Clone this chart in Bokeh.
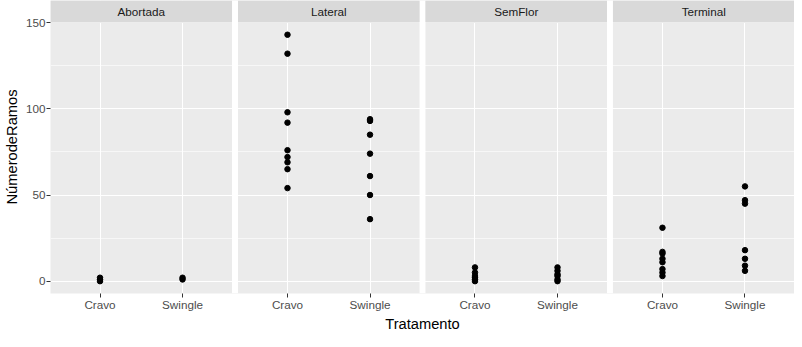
import math
from bokeh.plotting import figure
from bokeh.models import Range1d, FixedTicker, Title
from bokeh.core.properties import value
from bokeh.embed import file_html
from bokeh.resources import INLINE

# ---- data ----
panels = ["Abortada", "Lateral", "SemFlor", "Terminal"]
treatments = ["Cravo", "Swingle"]
abortada_cravo = [0, 1, 2]
abortada_swingle = [1, 2]
lateral_cravo = [143, 132, 98, 92, 76, 72, 69, 65, 54]
lateral_swingle = [94, 93, 85, 74, 61, 50, 36]
semflor_cravo = [0, 1, 2, 3, 5, 8]
semflor_swingle = [0, 1, 3, 4, 6, 8]
terminal_cravo = [31, 17, 16, 13, 11, 7, 5, 3]
terminal_swingle = [55, 47, 45, 18, 13, 9, 6]
y_ticks = [0, 50, 100, 150]
y_minor = [25, 75, 125]

series = {
    ("Abortada", "Cravo"): abortada_cravo,
    ("Abortada", "Swingle"): abortada_swingle,
    ("Lateral", "Cravo"): lateral_cravo,
    ("Lateral", "Swingle"): lateral_swingle,
    ("SemFlor", "Cravo"): semflor_cravo,
    ("SemFlor", "Swingle"): semflor_swingle,
    ("Terminal", "Cravo"): terminal_cravo,
    ("Terminal", "Swingle"): terminal_swingle,
}

# ---- layout ----
W, H = 794, 331
left_b, bottom_b = 42, 0
strip_px = 22
gap = 0.072
S = 2.2 + gap  # spacing between panel origins (in category units)
pad = 0.6
all_vals = [v for vs in series.values() for v in vs]
ymin, ymax = min(all_vals), max(all_vals)
ext = (ymax - ymin) * 0.05
y0, y1 = ymin - ext, ymax + ext
panel_px = 272
upp_y = (y1 - y0) / panel_px
strip_units = strip_px * upp_y
ytop = y1 + strip_units
x0, x1 = -pad, (len(panels) - 1) * S + 1 + pad

p = figure(width=W, height=H, output_backend="svg", toolbar_location=None,
           x_range=Range1d(x0, x1), y_range=Range1d(y0, ytop),
           min_border_left=left_b, min_border_bottom=bottom_b,
           min_border_top=0, min_border_right=0,
           background_fill_color="#EBEBEB", border_fill_color="white")
p.outline_line_color = None

FONT = "Liberation Sans"

# grid
p.ygrid.ticker = FixedTicker(ticks=y_ticks, minor_ticks=y_minor)
p.ygrid.grid_line_color = "white"
p.ygrid.grid_line_width = 1.1
p.ygrid.minor_grid_line_color = "white"
p.ygrid.minor_grid_line_width = 0.6

xt = []
labels = {}
for k, pn in enumerate(panels):
    for i, t in enumerate(treatments):
        xv = round(k * S + i, 4)
        xt.append(xv)
        labels[xv] = t
p.xgrid.ticker = FixedTicker(ticks=xt)
p.xgrid.grid_line_color = "white"
p.xgrid.grid_line_width = 1.1

# gaps between panels (white) and strips
gl = [round(k * S + 1 + pad, 4) for k in range(len(panels) - 1)]
gr = [round((k + 1) * S - pad, 4) for k in range(len(panels) - 1)]
p.quad(left=gl, right=gr, bottom=y0, top=ytop, fill_color="white", line_color=None)
sl = [k * S - pad for k in range(len(panels))]
sr = [k * S + 1 + pad for k in range(len(panels))]
p.quad(left=sl, right=sr, bottom=y1, top=ytop, fill_color="#D9D9D9", line_color=None)
p.text(x=[k * S + 0.5 for k in range(len(panels))], y=[y1 + strip_units / 2] * len(panels),
       text=panels, text_align="center", text_baseline="middle",
       text_font=value(FONT), text_font_size="11.7px", text_color="#1A1A1A")

# points
xs, ys = [], []
for k, pn in enumerate(panels):
    for i, t in enumerate(treatments):
        for v in series[(pn, t)]:
            xs.append(k * S + i)
            ys.append(v)
p.scatter(x=xs, y=ys, size=5.5, color="black")

# axes
p.xaxis.ticker = FixedTicker(ticks=xt)
p.xaxis.major_label_overrides = labels
p.yaxis.ticker = FixedTicker(ticks=y_ticks)
for ax in (p.xaxis[0], p.yaxis[0]):
    ax.axis_line_color = None
    ax.major_tick_line_color = "#333333"
    ax.major_tick_out = 4
    ax.major_tick_in = 0
    ax.minor_tick_line_color = None
    ax.major_label_text_font = FONT
    ax.major_label_text_font_size = "11.7px"
    ax.major_label_text_color = "#4D4D4D"
    ax.major_label_standoff = 1
    ax.axis_label_text_font = FONT
    ax.axis_label_text_font_size = "14.7px"
    ax.axis_label_text_font_style = "normal"
    ax.axis_label_text_color = "black"
p.xaxis.major_label_standoff = 0
p.yaxis.axis_label_standoff = 3
p.yaxis.axis_label = "NúmerodeRamos"

p.add_layout(Title(text="Tratamento", align="center", text_font=FONT,
                   text_font_size="14.7px", text_font_style="normal",
                   text_color="black", standoff=0, offset=0), "below")

open("out.html", "w").write(file_html(p, INLINE))
